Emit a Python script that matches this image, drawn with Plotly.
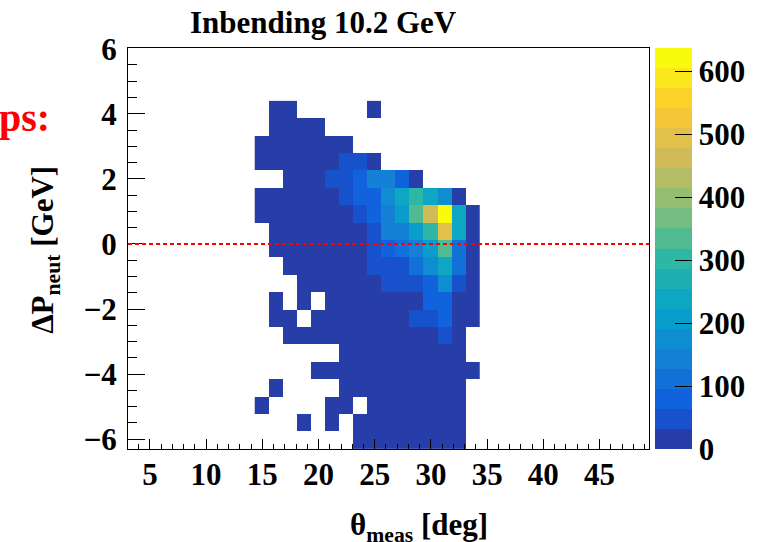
import plotly.graph_objects as go

# ---------------- data ----------------
theta_lo, theta_hi, n_theta_bins = 3.05, 49.4, 37      # x binning (deg)
dp_lo, dp_hi, n_dp_bins = -6.3, 6.0, 23                # y binning (GeV)
first_theta_bin = 9          # index of first listed theta column
first_dp_row_top = 3         # index (from the top) of first listed dP row

# counts, rows listed from top (dP high) to bottom, 16 theta columns each (0 = empty)
counts = [
    [0, 2, 1, 0, 0, 0, 0, 0, 1, 0, 0, 0, 0, 0, 0, 0],
    [0, 3, 2, 2, 1, 0, 0, 0, 0, 0, 0, 0, 0, 0, 0, 0],
    [1, 4, 5, 4, 3, 2, 1, 0, 0, 0, 0, 0, 0, 0, 0, 0],
    [2, 5, 6, 6, 8, 12, 38, 41, 9, 0, 0, 0, 0, 0, 0, 0],
    [0, 0, 6, 9, 14, 36, 52, 78, 142, 150, 86, 18, 0, 0, 0, 0],
    [3, 7, 9, 13, 17, 24, 48, 82, 92, 178, 238, 300, 232, 170, 22, 0],
    [2, 6, 10, 14, 19, 22, 28, 50, 88, 140, 210, 330, 462, 637, 236, 14],
    [0, 5, 9, 12, 16, 21, 27, 30, 46, 145, 152, 205, 296, 492, 244, 17],
    [0, 4, 8, 11, 15, 18, 24, 29, 42, 86, 108, 148, 212, 338, 112, 15],
    [0, 0, 5, 9, 13, 16, 20, 27, 40, 44, 56, 104, 170, 236, 110, 12],
    [0, 0, 0, 4, 8, 12, 16, 22, 28, 38, 44, 50, 84, 168, 40, 10],
    [0, 3, 0, 5, 0, 9, 13, 17, 21, 25, 27, 29, 76, 90, 24, 8],
    [0, 2, 4, 0, 6, 9, 12, 16, 19, 23, 26, 40, 46, 84, 22, 6],
    [0, 0, 3, 5, 7, 10, 14, 17, 20, 24, 27, 29, 30, 50, 20, 0],
    [0, 0, 0, 0, 0, 0, 6, 10, 14, 18, 21, 24, 26, 28, 16, 0],
    [0, 0, 0, 0, 2, 4, 7, 11, 14, 17, 20, 22, 24, 25, 13, 3],
    [0, 1, 0, 0, 0, 0, 5, 9, 12, 15, 18, 20, 21, 22, 11, 0],
    [1, 0, 0, 0, 0, 2, 3, 0, 10, 13, 16, 18, 19, 20, 9, 0],
    [0, 0, 0, 1, 0, 2, 0, 6, 9, 12, 14, 16, 17, 18, 8, 0],
    [0, 0, 0, 0, 0, 0, 0, 5, 8, 11, 13, 15, 16, 17, 7, 0],
]

z_min, z_max, n_contours = 0, 637, 20
x_tick_vals = [5, 10, 15, 20, 25, 30, 35, 40, 45]
y_tick_vals = [-6, -4, -2, 0, 2, 4, 6]
cb_tick_vals = [0, 100, 200, 300, 400, 500, 600]

title_text = "Inbending 10.2 GeV"
x_title = "θ<sub>meas</sub> [deg]"
y_title = "ΔP<sub>neut</sub> [GeV]"
side_note = "ps:"

# ---------------- binning ----------------
w = (theta_hi - theta_lo) / n_theta_bins
h = (dp_hi - dp_lo) / n_dp_bins
ncol = len(counts[0])
x_centers = [theta_lo + (first_theta_bin + i + 0.5) * w for i in range(ncol)]
y_centers = [dp_hi - (first_dp_row_top + j + 0.5) * h for j in range(len(counts))]
z = [[(v if v > 0 else None) for v in row] for row in counts]
# bottom-up order
y_centers = y_centers[::-1]
z = z[::-1]

# ---------------- ROOT kBird palette, 20 discrete bands ----------------
stops = [0.0, 0.125, 0.25, 0.375, 0.5, 0.625, 0.75, 0.875, 1.0]
red = [0.2082, 0.0592, 0.0780, 0.0232, 0.1802, 0.5301, 0.8186, 0.9956, 0.9764]
green = [0.1664, 0.3599, 0.5041, 0.6419, 0.7178, 0.7492, 0.7328, 0.7862, 0.9832]
blue = [0.5293, 0.8684, 0.8385, 0.7914, 0.6425, 0.4662, 0.3499, 0.1968, 0.0539]


def bird(p):
    for i in range(len(stops) - 1):
        if p <= stops[i + 1] or i == len(stops) - 2:
            f = (p - stops[i]) / (stops[i + 1] - stops[i])
            f = min(max(f, 0), 1)
            r = red[i] + (red[i + 1] - red[i]) * f
            g = green[i] + (green[i + 1] - green[i]) * f
            b = blue[i] + (blue[i + 1] - blue[i]) * f
            return "rgb(%d,%d,%d)" % (round(r * 255), round(g * 255), round(b * 255))


colorscale = []
for k in range(n_contours):
    idx = int((k + 0.99) * 255 / n_contours)
    c = bird(min(idx, 254) / 254)
    colorscale.append([k / n_contours, c])
    colorscale.append([(k + 1) / n_contours, c])

FONT = "Liberation Serif"

fig = go.Figure()
fig.add_trace(go.Heatmap(
    x=x_centers, y=y_centers, z=z,
    zmin=z_min, zmax=z_max, colorscale=colorscale,
    hoverongaps=False,
    colorbar=dict(
        thickness=37, thicknessmode="pixels",
        len=1, lenmode="fraction", y=0.5, yanchor="middle",
        x=1.0115, xanchor="left", xpad=0, ypad=0,
        outlinewidth=0,
        tickvals=cb_tick_vals, ticks="inside", ticklen=17, tickwidth=1,
        tickcolor="black",
        tickfont=dict(family=FONT, size=31, color="black", weight="bold"),
    ),
))

fig.add_shape(type="line", xref="paper", x0=0, x1=1, yref="y", y0=0, y1=0,
              line=dict(color="red", width=2, dash="4px,3px"))

axis_common = dict(
    showgrid=False, zeroline=False, showline=True, linecolor="black",
    linewidth=1, mirror=True, ticks="inside", tickcolor="black", tickwidth=1,
    tickfont=dict(family=FONT, size=31, color="black", weight="bold"),
)
fig.update_xaxes(range=[theta_lo, theta_hi], tickvals=x_tick_vals, ticklen=10,
                 ticklabelstandoff=-2,
                 minor=dict(dtick=1, tick0=0, ticks="inside", ticklen=5,
                            tickcolor="black", tickwidth=1),
                 **axis_common)
fig.update_yaxes(range=[dp_lo, 6.02], tickvals=y_tick_vals, ticklen=17,
                 ticklabelstandoff=4,
                 minor=dict(dtick=0.5, tick0=0, ticks="inside", ticklen=9,
                            tickcolor="black", tickwidth=1),
                 **axis_common)

fig.add_annotation(text="<b>%s</b>" % title_text, xref="paper", yref="paper",
                   x=0.376, y=1.064, xanchor="center", yanchor="middle",
                   showarrow=False, font=dict(family=FONT, size=31, color="black"))
fig.add_annotation(text="<b>%s</b>" % x_title, xref="paper", yref="paper",
                   x=0.5585, y=-0.195, xanchor="center", yanchor="middle",
                   showarrow=False, font=dict(family=FONT, size=31, color="black"))
fig.add_annotation(text="<b>%s</b>" % y_title, xref="paper", yref="paper",
                   x=-0.159, y=0.497, xanchor="center", yanchor="middle",
                   textangle=-90,
                   showarrow=False, font=dict(family=FONT, size=31, color="black"))
fig.add_annotation(text="<b>%s</b>" % side_note, xref="paper", yref="paper",
                   x=-0.146, y=0.826, xanchor="right", yanchor="middle",
                   showarrow=False, font=dict(family=FONT, size=40, color="red"))

fig.update_layout(
    width=758, height=542,
    margin=dict(l=128, r=109, t=48, b=93, autoexpand=False),
    paper_bgcolor="white", plot_bgcolor="white",
    showlegend=False,
)

fig.write_html(
    "out.html",
    config={"displayModeBar": False},
    post_script="document.body.style.margin='0';document.body.style.overflow='hidden';",
)
